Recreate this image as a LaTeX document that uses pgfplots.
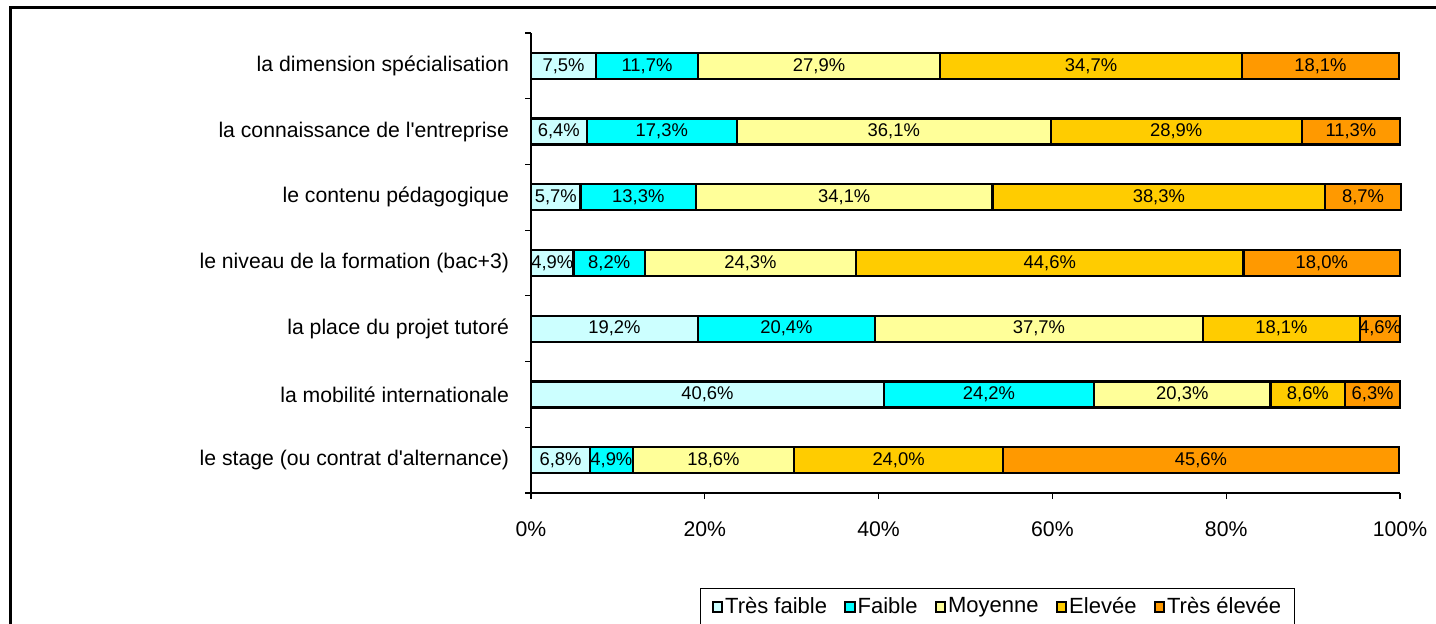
\documentclass[border=0pt]{standalone}
\usepackage{fontspec}
\setmainfont{Liberation Sans}
\usepackage{pgfplots}
\pgfplotsset{compat=1.18}
\usepackage{pgfplotstable}

\definecolor{cTF}{HTML}{CCFFFF}
\definecolor{cF}{HTML}{00FFFF}
\definecolor{cM}{HTML}{FFFF99}
\definecolor{cE}{HTML}{FFCC00}
\definecolor{cTE}{HTML}{FF9900}

% pos: 1 = bottom bar, 7 = top bar
\pgfplotstableread{
pos tf   f    m    e    te
1   6.8  4.9  18.6 24.0 45.6
2   40.6 24.2 20.3 8.6  6.3
3   19.2 20.4 37.7 18.1 4.6
4   4.9  8.2  24.3 44.6 18.0
5   5.7  13.3 34.1 38.3 8.7
6   6.4  17.3 36.1 28.9 11.3
7   7.5  11.7 27.9 34.7 18.1
}\datatable

\begin{document}
\begin{tikzpicture}
\useasboundingbox (0,0) rectangle (718pt,311.5pt);
\draw[line width=1.5pt] (5pt,-5pt) -- (5pt,307.5pt) -- (725pt,307.5pt);
\begin{axis}[
  xbar stacked,
  scale only axis,
  width=434.5pt, height=230pt,
  at={(265.5pt,65pt)}, anchor=south west,
  xmin=0, xmax=100, ymin=0.5, ymax=7.5,
  clip=false,
  bar width=13pt,
  axis x line*=bottom, axis y line*=left,
  axis line style={line width=0.75pt},
  tick align=outside,
  major tick length=3pt, minor tick length=3pt,
  tick style={black, line width=0.6pt},
  major y tick style={draw=none},
  xtick={0,20,40,60,80,100},
  xticklabels={0\%,20\%,40\%,60\%,80\%,100\%},
  xticklabel style={yshift=-8pt},
  ytick={1,...,7},
  minor ytick={0.5,1.5,...,7.5},
  yticklabels={le stage (ou contrat d\textquotesingle alternance),
    la mobilité internationale,
    la place du projet tutoré,
    le niveau de la formation (bac+3),
    le contenu pédagogique,
    la connaissance de l\textquotesingle entreprise,
    la dimension spécialisation},
  yticklabel style={xshift=-4.5pt},
  ticklabel style={font=\fontsize{10.6}{12}\selectfont},
  /pgf/number format/assume math mode=true,
  point meta=explicit,
  nodes near coords={\pgfmathprintnumber[fixed,fixed zerofill,precision=1,use comma]{\pgfplotspointmeta}\%},
  nodes near coords align={anchor=center},
  every node near coord/.append style={
    inner sep=0pt, black,
    font=\fontsize{9.2}{10}\selectfont},
  every axis plot/.append style={draw=black, line width=1.1pt},
  legend columns=5,
  legend style={at={(0.1945,-0.206)}, anchor=north west, draw=black,
    line width=0.5pt, inner xsep=5.5pt, inner ysep=2.5pt,
    font=\fontsize{11}{13}\selectfont,
    /tikz/every even column/.append style={column sep=7.5pt},
    nodes={inner xsep=1pt}},
  legend image code/.code={\draw[#1, draw=black, line width=1pt] (0pt,-2.4pt) rectangle (4.8pt,2.4pt);},
]
\addplot[fill=cTF] table[x=tf, y=pos, meta=tf] {\datatable};
\addplot[fill=cF] table[x=f, y=pos, meta=f] {\datatable};
\addplot[fill=cM] table[x=m, y=pos, meta=m] {\datatable};
\addplot[fill=cE] table[x=e, y=pos, meta=e] {\datatable};
\addplot[fill=cTE] table[x=te, y=pos, meta=te] {\datatable};
\legend{Très faible, Faible, Moyenne, Elevée, Très élevée}
\end{axis}
\end{tikzpicture}
\end{document}
